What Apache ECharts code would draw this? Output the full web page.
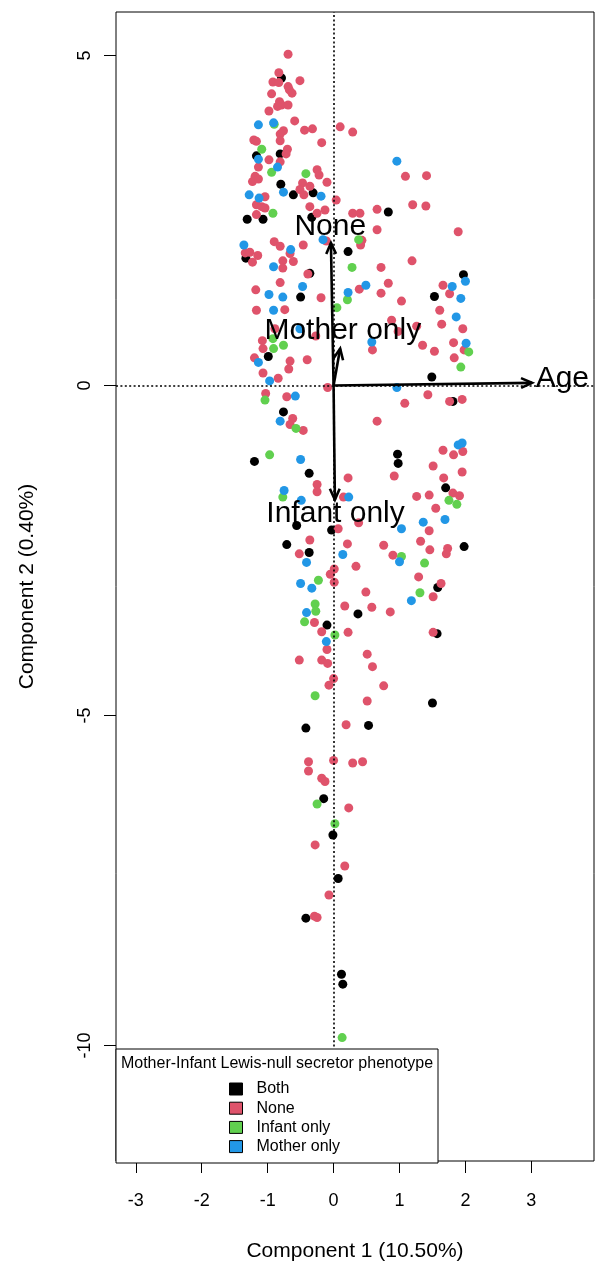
<!DOCTYPE html>
<html>
<head>
<meta charset="utf-8">
<script src="https://cdn.jsdelivr.net/npm/echarts@6/dist/echarts.min.js"></script>
<style>
  html, body { margin: 0; padding: 0; background: #fff; }
  #chart { width: 595px; height: 1267px; }
</style>
</head>
<body>
<div id="chart"></div>
<script>
// scores per phenotype group, [component 1, component 2]
const bothPts = [
  [-0.79, 4.66], [-1.17, 3.48], [-0.81, 3.51], [-0.80, 3.05], [-0.61, 2.89], [-0.31, 2.92],
  [-1.31, 2.52], [-1.07, 2.52], [-0.33, 2.55], [0.22, 2.03], [0.83, 2.63], [-1.33, 1.93],
  [-0.36, 1.70], [-0.50, 1.34], [1.53, 1.35], [1.97, 1.68], [-0.99, 0.44], [1.49, 0.13],
  [1.81, -0.24], [-0.76, -0.40], [0.97, -1.04], [0.98, -1.18], [-1.20, -1.15], [-0.37, -1.33],
  [1.70, -1.55], [-0.56, -2.12], [-0.03, -2.19], [-0.71, -2.41], [-0.37, -2.53], [1.98, -2.44],
  [1.58, -3.06], [0.37, -3.46], [-0.10, -3.63], [1.57, -3.76], [1.50, -4.81], [0.53, -5.15],
  [-0.42, -5.19], [-0.15, -6.26], [-0.01, -6.81], [0.07, -7.47], [-0.42, -8.07], [0.12, -8.92],
  [0.14, -9.07]
];
const nonePts = [
  [-0.69, 5.02], [-0.83, 4.74], [-0.92, 4.60], [-0.83, 4.59], [-0.51, 4.62], [-0.69, 4.53],
  [-0.67, 4.48], [-0.63, 4.43], [-0.94, 4.42], [-0.82, 4.30], [-0.79, 4.25], [-0.69, 4.25],
  [-0.85, 4.23], [-0.98, 4.16], [-0.59, 4.01], [-0.44, 3.87], [-0.32, 3.89], [-0.76, 3.86],
  [-0.81, 3.81], [-1.21, 3.72], [-1.17, 3.70], [-0.81, 3.71], [-0.18, 3.68], [-0.70, 3.58],
  [-0.72, 3.51], [-0.98, 3.42], [-0.81, 3.39], [-1.14, 3.31], [-1.19, 3.17], [-1.23, 3.09],
  [-1.14, 3.13], [-0.25, 3.27], [-0.22, 3.19], [-0.10, 3.08], [-0.47, 3.07], [-0.36, 3.02],
  [-0.51, 2.97], [-0.45, 2.89], [-1.04, 2.86], [0.04, 2.81], [-1.17, 2.74], [-1.09, 2.71],
  [-1.04, 2.69], [-0.36, 2.71], [-0.13, 2.66], [-0.25, 2.61], [-1.17, 2.59], [-0.11, 2.19],
  [-0.90, 2.18], [-0.81, 2.11], [-0.46, 2.13], [-1.34, 2.01], [-1.27, 2.02], [-1.15, 1.97],
  [0.10, 3.92], [0.29, 3.84], [1.09, 3.17], [1.41, 3.18], [0.29, 2.61], [0.40, 2.61],
  [0.66, 2.67], [1.20, 2.74], [1.40, 2.72], [0.66, 2.36], [1.89, 2.33], [0.43, 2.20],
  [0.41, 2.13], [1.19, 1.89], [-1.23, 1.87], [-0.77, 1.89], [-0.77, 1.78], [-0.66, 2.00],
  [-0.61, 1.88], [-0.39, 1.69], [-0.81, 1.56], [-1.18, 1.45], [-0.19, 1.33], [-1.17, 1.14],
  [-0.74, 1.15], [-0.89, 0.86], [-0.27, 0.75], [-1.08, 0.68], [-1.07, 0.56], [-1.20, 0.42],
  [-0.66, 0.37], [-0.68, 0.25], [-0.40, 0.39], [-1.07, 0.19], [-0.84, 0.11], [-0.09, -0.03],
  [-1.03, -0.12], [-0.71, -0.17], [-0.62, -0.50], [-0.66, -0.59], [-0.46, -0.68], [-0.25, -1.50],
  [0.22, -1.40], [0.72, 1.79], [1.66, 1.52], [1.76, 1.39], [0.39, 1.46], [0.83, 1.55],
  [0.72, 1.40], [1.03, 1.28], [1.61, 1.14], [1.64, 0.93], [1.96, 0.86], [0.88, 0.99],
  [0.98, 0.82], [1.26, 0.90], [0.59, 0.54], [1.35, 0.61], [1.53, 0.52], [1.82, 0.65],
  [1.98, 0.54], [1.83, 0.42], [1.43, -0.14], [1.08, -0.27], [1.76, -0.24], [1.95, -0.21],
  [0.66, -0.54], [1.66, -0.98], [1.82, -1.05], [1.96, -1.00], [1.51, -1.22], [1.95, -1.31],
  [0.92, -1.37], [1.67, -1.40], [1.26, -1.68], [1.45, -1.66], [1.81, -1.63], [1.91, -1.67],
  [0.15, -1.69], [-0.25, -1.61], [1.55, -1.86], [0.38, -2.08], [0.07, -2.17], [1.45, -2.20],
  [1.32, -2.36], [0.21, -2.40], [0.76, -2.42], [1.46, -2.49], [1.73, -2.47], [1.71, -2.55],
  [0.90, -2.57], [0.34, -2.74], [0.01, -2.78], [-0.05, -2.86], [0.01, -2.98], [1.29, -2.90],
  [1.63, -3.00], [1.51, -3.20], [0.49, -3.13], [0.17, -3.34], [0.58, -3.36], [0.86, -3.43],
  [0.22, -3.74], [1.51, -3.74], [0.51, -4.07], [0.59, -4.26], [0.76, -4.55], [0.51, -4.78],
  [0.19, -5.14], [-0.36, -2.34], [-0.52, -2.55], [-0.29, -3.59], [-0.18, -3.73], [-0.10, -4.00],
  [-0.52, -4.16], [-0.18, -4.16], [-0.09, -4.21], [0.00, -4.44], [-0.07, -4.54], [-0.38, -5.70],
  [-0.38, -5.84], [0.00, -5.68], [0.29, -5.72], [0.44, -5.70], [-0.18, -5.95], [-0.13, -6.00],
  [0.23, -6.40], [-0.28, -6.96], [0.17, -7.28], [-0.07, -7.72], [-0.29, -8.04], [-0.25, -8.06]
];
const infantPts = [
  [-0.90, 3.96], [-1.09, 3.58], [-0.94, 3.23], [-0.42, 3.21], [-0.92, 2.61], [0.38, 2.21],
  [0.28, 1.79], [0.21, 1.30], [0.05, 1.18], [-0.92, 0.71], [-0.91, 0.56], [-0.76, 0.61],
  [-1.04, -0.22], [-0.57, -0.65], [-0.97, -1.05], [-0.77, -1.69], [2.05, 0.51], [1.93, 0.28],
  [1.75, -1.74], [1.87, -1.80], [1.03, -2.59], [1.38, -2.69], [1.31, -3.14], [-0.23, -2.95],
  [-0.28, -3.31], [-0.27, -3.42], [-0.44, -3.58], [0.02, -3.78], [-0.28, -4.70], [-0.25, -6.34],
  [0.02, -6.64], [0.13, -9.88]
];
const motherPts = [
  [-1.14, 3.95], [-0.91, 3.98], [-1.14, 3.43], [-0.85, 3.31], [-1.28, 2.89], [-1.13, 2.84],
  [-0.76, 2.93], [-0.19, 2.87], [-0.16, 2.21], [-1.36, 2.13], [-0.65, 2.06], [0.96, 3.40],
  [-0.91, 1.80], [-0.47, 1.50], [-0.98, 1.38], [-0.77, 1.34], [-0.91, 1.14], [-0.51, 0.86],
  [-1.14, 0.35], [-0.97, 0.07], [-0.58, -0.16], [-0.81, -0.54], [-0.50, -1.12], [-0.75, -1.59],
  [-0.49, -1.74], [0.22, 1.41], [0.49, 1.52], [1.80, 1.50], [2.00, 1.58], [1.93, 1.32],
  [1.86, 1.04], [0.58, 0.66], [2.01, 0.64], [0.96, -0.03], [1.89, -0.90], [1.95, -0.87],
  [0.23, -1.69], [1.69, -2.03], [1.36, -2.07], [1.03, -2.17], [0.14, -2.56], [1.00, -2.67],
  [1.18, -3.26], [-0.41, -2.68], [-0.50, -3.00], [-0.33, -3.07], [-0.41, -3.44], [-0.11, -3.88]
];

// biplot arrows (variable loadings) and where their names sit
const arrowNames = ['None', 'Mother only', 'Infant only', 'Age'];
const arrowTips = [[-0.04, 2.16], [0.10, 0.56], [0.02, -1.73], [3.01, 0.04]];
const arrowLabelAt = [[-0.05, 2.41], [0.14, 0.83], [0.03, -1.94], [3.47, 0.11]];

const groupNames = ['Both', 'None', 'Infant only', 'Mother only'];
const groupColors = ['#000000', '#DF536B', '#61D04F', '#2297E6'];
const xTicks = [-3, -2, -1, 0, 1, 2, 3];
const yTicks = [-10, -5, 0, 5];

const FONT = '"Liberation Sans", Arial, sans-serif';

var chart = echarts.init(document.getElementById('chart'), null, { renderer: 'canvas' });

function scatter(name, pts, color) {
    return {
        name: name,
        type: 'scatter',
        data: pts,
        symbolSize: 9,
        itemStyle: { color: color, opacity: 1 },
        silent: true,
        z: 2
    };
}

var series = [
    scatter(groupNames[0], bothPts, groupColors[0]),
    scatter(groupNames[1], nonePts, groupColors[1]),
    scatter(groupNames[2], infantPts, groupColors[2]),
    scatter(groupNames[3], motherPts, groupColors[3])
];

// dotted zero lines
series[0].markLine = {
    silent: true,
    symbol: 'none',
    label: { show: false },
    lineStyle: { color: '#000', type: [2, 2.4], width: 1.6 },
    data: [{ xAxis: 0 }, { yAxis: 0 }]
};

// arrows with open heads, labels at the tips
series.push({
    type: 'custom',
    coordinateSystem: 'cartesian2d',
    silent: true,
    z: 5,
    data: arrowTips.map((t, i) => [t[0], t[1], arrowLabelAt[i][0], arrowLabelAt[i][1]]),
    renderItem: function (params, api) {
        var o = api.coord([0, 0]);
        var t = api.coord([api.value(0), api.value(1)]);
        var l = api.coord([api.value(2), api.value(3)]);
        var ang = Math.atan2(t[1] - o[1], t[0] - o[0]);
        var h = 12, a = Math.PI / 7.5;
        var p1 = [t[0] - h * Math.cos(ang - a), t[1] - h * Math.sin(ang - a)];
        var p2 = [t[0] - h * Math.cos(ang + a), t[1] - h * Math.sin(ang + a)];
        return {
            type: 'group',
            children: [
                { type: 'line', shape: { x1: o[0], y1: o[1], x2: t[0], y2: t[1] },
                  style: { stroke: '#000', lineWidth: 2.6 } },
                { type: 'polyline', shape: { points: [p1, t, p2] },
                  style: { stroke: '#000', lineWidth: 2.6, fill: null } },
                { type: 'text', x: l[0], y: l[1],
                  style: { text: arrowNames[params.dataIndex], fill: '#000', fontSize: 30,
                           fontFamily: FONT, align: 'center', verticalAlign: 'middle' } }
            ]
        };
    }
});

var option = {
    animation: false,
    grid: {
        left: 116, right: 1, top: 12, bottom: 104,
        show: true, borderColor: '#000', borderWidth: 1
    },
    xAxis: {
        type: 'value', min: -3.30, max: 3.95,
        name: 'Component 1 (10.50%)', nameLocation: 'middle', nameGap: 80,
        nameTextStyle: { fontSize: 21, color: '#000', fontFamily: FONT },
        axisLine: { show: false, onZero: false },
        splitLine: { show: false },
        axisTick: { show: true, length: 12, customValues: xTicks, lineStyle: { color: '#000', width: 1 } },
        axisLabel: { customValues: xTicks, fontSize: 18, color: '#000', fontFamily: FONT, margin: 31 }
    },
    yAxis: {
        type: 'value', min: -11.75, max: 5.66,
        name: 'Component 2 (0.40%)', nameLocation: 'middle', nameGap: 78,
        nameTextStyle: { fontSize: 21, color: '#000', fontFamily: FONT },
        axisLine: { show: false, onZero: false },
        splitLine: { show: false },
        axisTick: { show: true, length: 12, customValues: yTicks, lineStyle: { color: '#000', width: 1 } },
        axisLabel: { customValues: yTicks, rotate: 90, fontSize: 18, color: '#000', fontFamily: FONT, margin: 22 }
    },
    legend: {
        data: groupNames,
        orient: 'vertical',
        left: 224, top: 1076,
        icon: 'rect',
        itemWidth: 13, itemHeight: 12, itemGap: 3.2,
        itemStyle: { borderColor: '#000', borderWidth: 1 },
        textStyle: { fontSize: 16, color: '#000', fontFamily: FONT, padding: [0, 0, 0, 9] },
        selectedMode: false,
        z: 20
    },
    graphic: [
        { type: 'rect', z: 10, shape: { x: 116, y: 1049, width: 322, height: 114 },
          style: { fill: '#fff', stroke: '#000', lineWidth: 1 } },
        { type: 'text', z: 11, x: 277, y: 1064,
          style: { text: 'Mother-Infant Lewis-null secretor phenotype', fontSize: 16, fill: '#000',
                   fontFamily: FONT, align: 'center', verticalAlign: 'middle' } }
    ],
    series: series
};

chart.setOption(option);
</script>
</body>
</html>
